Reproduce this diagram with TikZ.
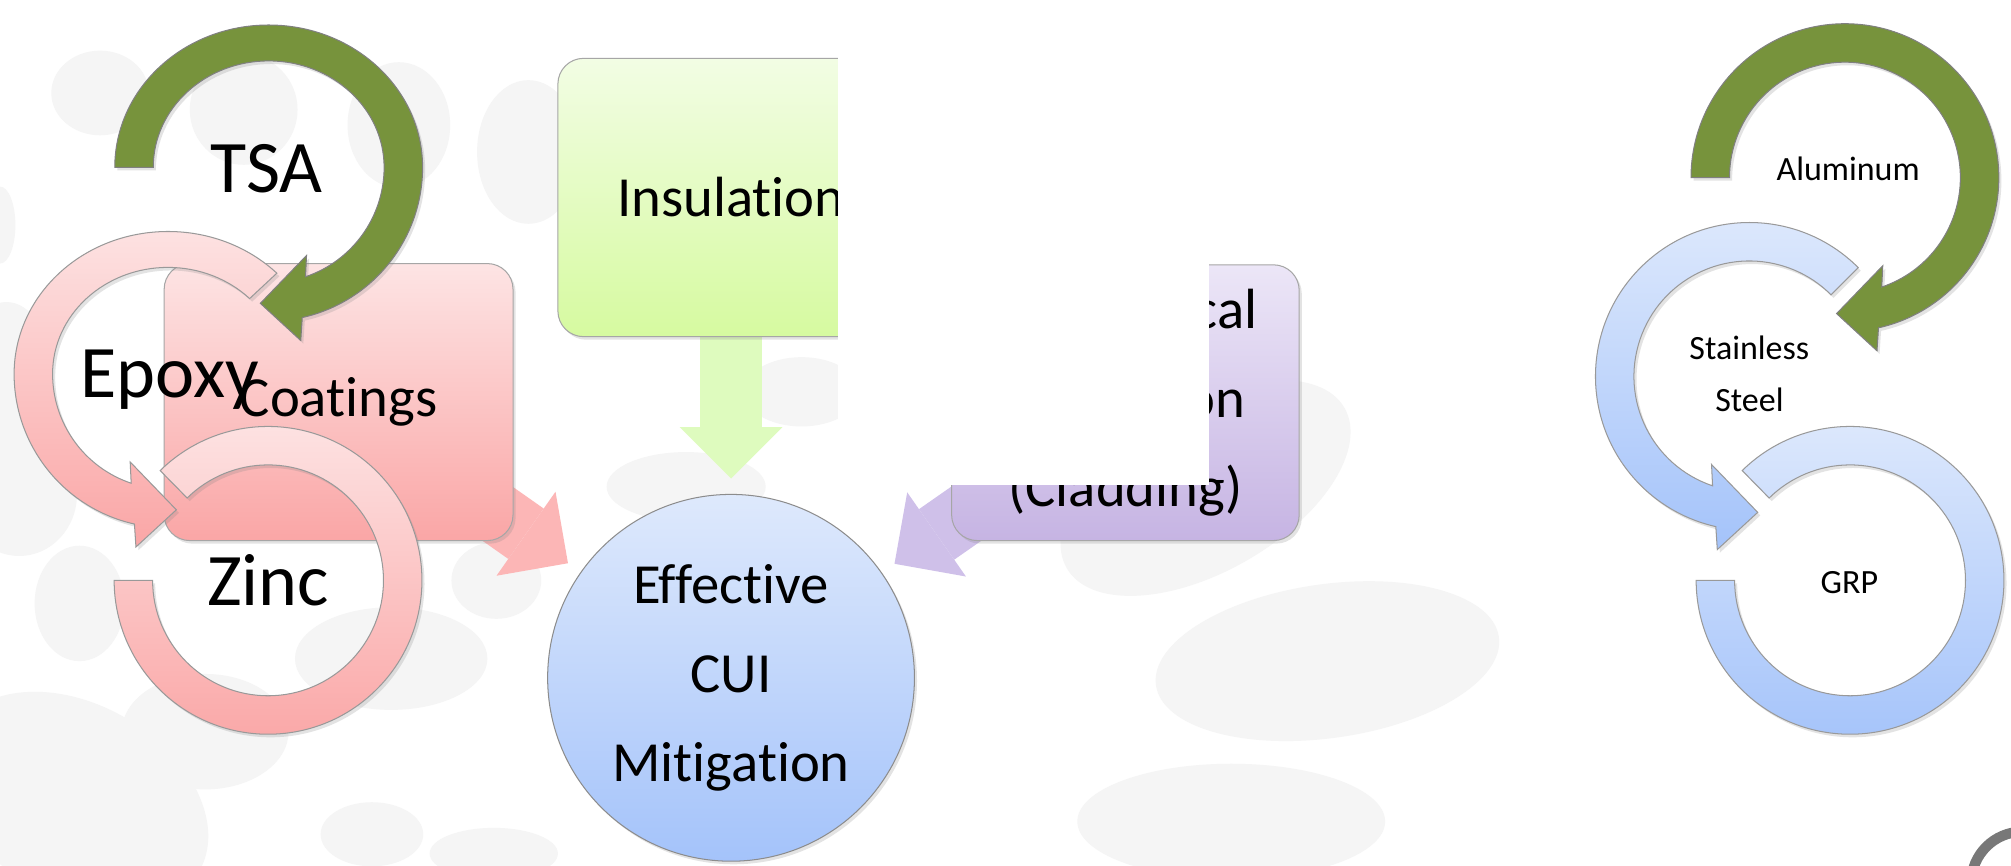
\documentclass[tikz,border=0pt]{standalone}
\usepackage{fontspec}
\setmainfont{Carlito}[Ligatures=NoCommon]
\usetikzlibrary{arrows.meta,shadows}
\pgfdeclarelayer{blobs}
\pgfdeclarelayer{links}
\pgfsetlayers{blobs,links,main}
\definecolor{arcgreen}{RGB}{119,147,60}
\definecolor{pinktop}{RGB}{253,228,228}
\definecolor{pinkbot}{RGB}{250,166,166}
\definecolor{bluetop}{RGB}{222,233,252}
\definecolor{bluebot}{RGB}{164,195,250}
\definecolor{instop}{RGB}{242,253,228}
\definecolor{insbot}{RGB}{214,250,160}
\definecolor{mechtop}{RGB}{236,230,247}
\definecolor{mechbot}{RGB}{198,180,227}
\definecolor{pinklink}{RGB}{252,182,182}
\definecolor{greenlink}{RGB}{222,251,190}
\definecolor{purplelink}{RGB}{207,192,233}
\definecolor{blobgray}{RGB}{245,245,245}
\definecolor{logogray}{RGB}{120,120,120}
\begin{document}
\begin{tikzpicture}[x=0.5pt,y=0.5pt,
  softshadow/.style={drop shadow={opacity=0.22,shadow xshift=1pt,shadow yshift=-1.2pt}},
  box/.style={draw=black!35,line width=0.4pt,rounded corners=10pt,minimum width=136pt,minimum height=108pt,inner sep=0pt,align=center,font=\fontsize{22.1}{34.75}\selectfont,softshadow},
  cuicircle/.style={circle,draw=black!45,line width=0.4pt,minimum size=143pt,inner sep=0pt,align=center,font=\fontsize{22.1}{34.75}\selectfont,top color=bluetop,bottom color=bluebot,softshadow},
  linkarrow/.style={line width=24pt,-{Triangle[length=20pt,width=40pt,line width=0pt]},shorten >=6pt},
  greenarc/.style={fill=arcgreen,draw=black!50,line width=0.4pt,softshadow},
  pinkarc/.style={top color=pinktop,bottom color=pinkbot,draw=black!40,line width=0.4pt,softshadow},
  bluearc/.style={top color=bluetop,bottom color=bluebot,draw=black!40,line width=0.4pt,softshadow},
  biglabel/.style={font=\fontsize{28.9}{34}\selectfont,anchor=base},
  smalllabel/.style={font=\fontsize{13.25}{20}\selectfont,align=center}]
\clip (0,0) rectangle (1568,674.5);

\begin{pgfonlayer}{blobs}
\fill[white] (0,0) rectangle (1568,674.5);
\fill[blobgray] (78,602) ellipse[x radius=38,y radius=33];
\fill[blobgray] (190,589) ellipse[x radius=42,y radius=43];
\fill[blobgray] (311,577) ellipse[x radius=40,y radius=49];
\fill[blobgray] (412,556) ellipse[x radius=40,y radius=56];
\fill[blobgray] (0,499) ellipse[x radius=12,y radius=30];
\fill[blobgray] (5,384) ellipse[x radius=35,y radius=55];
\fill[blobgray] (15,289) ellipse[x radius=45,y radius=48];
\fill[blobgray] (62,204) ellipse[x radius=35,y radius=45];
\fill[blobgray] (160,104) ellipse[x radius=65,y radius=45];
\fill[blobgray] (305,161) ellipse[x radius=75,y radius=40];
\fill[blobgray] (387,222) ellipse[x radius=35,y radius=30];
\fill[blobgray,rotate around={-30:(60,50)}] (60,50) ellipse[x radius=110,y radius=75];
\fill[blobgray] (535,295) ellipse[x radius=62,y radius=27];
\fill[blobgray] (625,369) ellipse[x radius=45,y radius=27];
\fill[blobgray,rotate around={30:(940,294)}] (940,294) ellipse[x radius=125,y radius=65];
\fill[blobgray,rotate around={8:(1035,159)}] (1035,159) ellipse[x radius=135,y radius=60];
\fill[blobgray] (960,34) ellipse[x radius=120,y radius=45];
\fill[blobgray] (290,24) ellipse[x radius=40,y radius=25];
\fill[blobgray] (385,9) ellipse[x radius=50,y radius=20];
\end{pgfonlayer}

\node[box,top color=pinktop,bottom color=pinkbot] (coat) at (264,361) {Coatings};
\node[box,top color=instop,bottom color=insbot,minimum width=135pt,minimum height=108.5pt] (ins) at (570,520.5) {Insulation};
\node[box,top color=mechtop,bottom color=mechbot,minimum width=135.5pt,minimum height=107.5pt] (mech) at (877.5,360.5) {Mechanical\\Protection\\(Cladding)};
\node[cuicircle] (cui) at (570,146) {Effective\\CUI\\Mitigation};

\begin{pgfonlayer}{links}
\draw[linkarrow,draw=pinklink] (coat.center) -- (cui);
\draw[linkarrow,draw=greenlink] (ins.center) -- (cui);
\draw[linkarrow,draw=purplelink] (mech.center) -- (cui);
\end{pgfonlayer}

\fill[white] (653,296) rectangle (943,636);

\draw[pinkarc,shift={(209,222)}] (134.5:120) arc[start angle=134.5,end angle=-180,radius=120] -- (180:90) arc[start angle=-180,end angle=134.5,radius=90] -- cycle;
\draw[pinkarc,shift={(131,383)}] (45:120 and 111) arc[start angle=45,end angle=180,x radius=120,y radius=111] arc[start angle=180,end angle=257.4,radius=120] -- (-25,-135) -- (6.5,-106) -- (-29.5,-68.7) -- (251.4:90) arc[start angle=251.4,end angle=180,radius=90] arc[start angle=180,end angle=45,x radius=90,y radius=83] -- cycle;
\draw[greenarc,shift={(209.5,544)}] (180:120) arc[start angle=180,end angle=0,x radius=120,y radius=111] arc[start angle=0,end angle=-77.4,radius=120] -- (25,-135) -- (-6.5,-106) -- (29.5,-68.7) -- (-71.4:90) arc[start angle=-71.4,end angle=0,radius=90] arc[start angle=0,end angle=180,x radius=90,y radius=83] -- cycle;

\draw[bluearc,shift={(1442.5,222)}] (134.5:120) arc[start angle=134.5,end angle=-180,radius=120] -- (180:90) arc[start angle=-180,end angle=134.5,radius=90] -- cycle;
\draw[bluearc,shift={(1364,381)}] (45:120) arc[start angle=45,end angle=257.4,radius=120] -- (-25,-135) -- (6.5,-106) -- (-29.5,-68.7) -- (251.4:90) arc[start angle=251.4,end angle=45,radius=90] -- cycle;
\draw[greenarc,shift={(1438.5,536)}] (180:120) arc[start angle=180,end angle=-77.4,radius=120] -- (25,-135) -- (-6.5,-106) -- (29.5,-68.7) -- (-71.4:90) arc[start angle=-71.4,end angle=180,radius=90] -- cycle;

\node[biglabel] (tsa) at (208,524.5) {TSA};
\node[biglabel] (epoxy) at (132.5,364.5) {Epoxy};
\node[biglabel] (zinc) at (209,202) {Zinc};
\node[smalllabel,anchor=base] (alu) at (1441,534) {Aluminum};
\node[smalllabel] (steel) at (1364,383) {Stainless\\Steel};
\node[smalllabel,anchor=base] (grp) at (1442,211.4) {GRP};

\draw[logogray,line width=4pt] (1577,-14) circle[radius=40];
\end{tikzpicture}
\end{document}
